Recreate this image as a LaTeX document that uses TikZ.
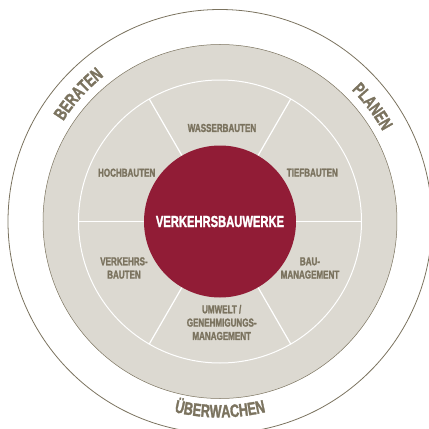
\documentclass[tikz,border=0pt]{standalone}
\usepackage{fontspec}
\usetikzlibrary{decorations.text}

\newfontfamily\diafont{Liberation Sans}[FakeStretch=0.7, BoldFeatures={FakeBold=1.6}]
\definecolor{wine}{HTML}{911C36}
\definecolor{stone}{HTML}{DCD9D1}
\definecolor{umber}{HTML}{7B735F}
\newcommand\ringfont{\diafont\bfseries\fontsize{18}{18}\selectfont\color{umber}}

\tikzset{
  seglabel/.style={font=\diafont\bfseries\fontsize{11.5}{13.3}\selectfont, text=umber, align=center, inner sep=0pt},
  corelabel/.style={font=\diafont\bfseries\fontsize{16}{16}\selectfont, text=white, inner sep=0pt},
  ringtext/.style={decorate, decoration={text along path, text align=center, text={|\ringfont|#1}}}
}

\begin{document}
\begin{tikzpicture}[x=1pt,y=1pt]
    \clip (-220,-207.5) rectangle (209,221.5);
    % rings
    \draw[umber, line width=0.8pt] (0,0) circle (212);
    \filldraw[fill=stone, draw=umber, line width=0.5pt] (0,0) circle (177);
    \draw[white, line width=1pt] (0,0) circle (141.5);
    \foreach \a in {0,60,...,300} {
        \draw[white, line width=1.2pt] (\a:70) -- (\a:141.5);
      }
    % core
    \fill[wine] (0,0) circle (76);
    \node[corelabel] (core) at (0,0) {VERKEHRSBAUWERKE};

    % segments
    \node[seglabel] (wasser) at (2,93.5) {WASSERBAUTEN};
    \node[seglabel] (tief) at (92.3,48.8) {TIEFBAUTEN};
    \node[seglabel] (hoch) at (-93.3,48.8) {HOCHBAUTEN};
    \node[seglabel] (baumgmt) at (90,-46.5) {BAU-\\MANAGEMENT};
    \node[seglabel] (verkehr) at (-96,-46.5) {VERKEHRS-\\BAUTEN};
    \node[seglabel] (umwelt) at (1.7,-101) {UMWELT /\\GENEHMIGUNGS-\\MANAGEMENT};

    % outer ring words
    \path[ringtext=BERATEN] (158:186) arc[start angle=158, end angle=118, radius=186];
    \path[ringtext=PLANEN] (57:186) arc[start angle=57, end angle=17, radius=186];
    \path[ringtext=ÜBERWACHEN] (-125:196) arc[start angle=-125, end angle=-55, radius=196];
  \end{tikzpicture}
\end{document}
